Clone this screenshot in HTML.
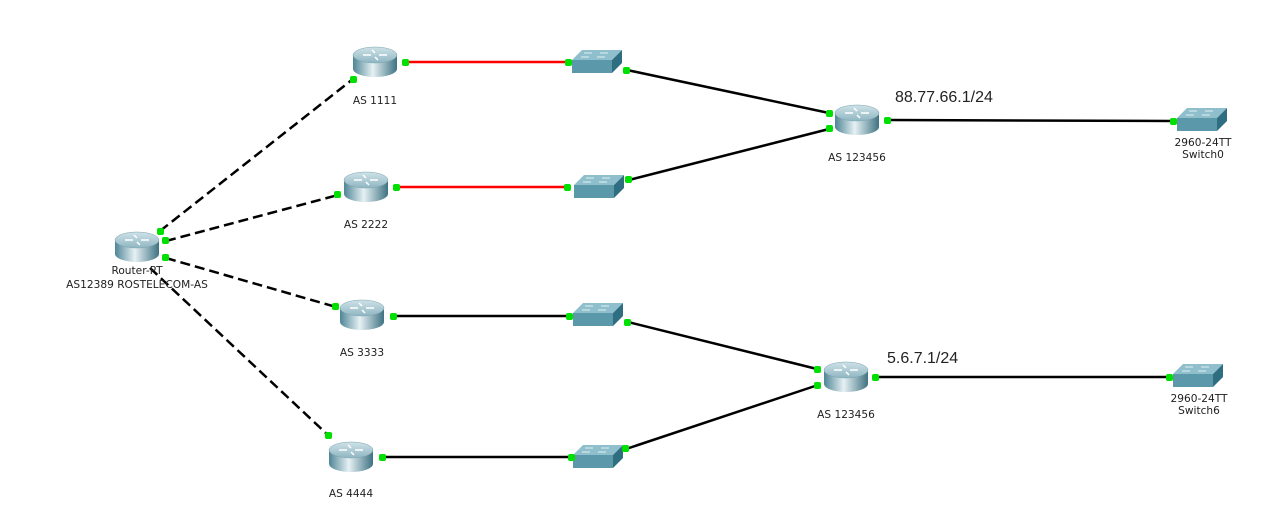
<!DOCTYPE html>
<html><head><meta charset="utf-8"><style>
body{margin:0;background:#fff;}
svg text{font-family:"DejaVu Sans","Liberation Sans",sans-serif;font-size:10.6px;fill:#222;}
</style></head><body>
<svg width="1281" height="511" viewBox="0 0 1281 511" xmlns="http://www.w3.org/2000/svg">
<defs>
<linearGradient id="rb" x1="0" x2="1" y1="0" y2="0">
<stop offset="0" stop-color="#4f8596"/><stop offset="0.45" stop-color="#e6f1f4"/><stop offset="1" stop-color="#3e7282"/>
</linearGradient>
<linearGradient id="rt" x1="0" x2="0" y1="0" y2="1">
<stop offset="0" stop-color="#cfe2e8"/><stop offset="1" stop-color="#8fb6c2"/>
</linearGradient>
<g id="router">
<ellipse cx="0" cy="8" rx="22" ry="8" fill="url(#rb)"/>
<rect x="-22" y="-6" width="44" height="14" fill="url(#rb)"/>
<ellipse cx="0" cy="-6" rx="22" ry="8" fill="url(#rt)" stroke="#7aa3b0" stroke-width="0.5"/>
<path d="M-12 -6 h8 M4 -6 h8 M-3 -11 l3 3 M3 -1 l-3 -3" stroke="#fff" stroke-width="1.5" fill="none"/>
</g>
<g id="switch">
<polygon points="0,10 10,0 50,0 40,10" fill="#8fbfcc"/>
<rect x="0" y="10" width="40" height="13" fill="#5a98aa"/>
<polygon points="40,10 50,0 50,13 40,23" fill="#2f6e80"/>
<path d="M12 3 h8 M28 3 h8 M9 7 h8 M25 7 h8" stroke="#e0f0f4" stroke-width="1"/>
</g>
</defs>
<g stroke="#000" stroke-width="2.5" fill="none" stroke-dasharray="10,5">
<line x1="160" y1="231" x2="353" y2="79"/>
<line x1="166" y1="241" x2="338" y2="195"/>
<line x1="166" y1="258" x2="336" y2="307"/>
<line x1="150" y1="268" x2="329" y2="436"/>
</g>
<g stroke-width="2.5">
<line x1="405" y1="62" x2="568" y2="62" stroke="#f00"/>
<line x1="396" y1="187" x2="567" y2="187" stroke="#f00"/>
<g stroke="#000">
<line x1="627" y1="70" x2="829" y2="113"/>
<line x1="629" y1="180" x2="829" y2="129"/>
<line x1="887" y1="120" x2="1173" y2="121"/>
<line x1="393" y1="316" x2="569" y2="316"/>
<line x1="628" y1="322" x2="817" y2="369"/>
<line x1="626" y1="449" x2="818" y2="385"/>
<line x1="382" y1="457" x2="571" y2="457"/>
<line x1="876" y1="377" x2="1169" y2="377"/>
</g>
</g>
<use href="#router" x="137" y="246"/>
<use href="#router" x="375" y="61"/>
<use href="#router" x="366" y="186"/>
<use href="#router" x="362" y="314"/>
<use href="#router" x="351" y="456"/>
<use href="#router" x="857" y="119"/>
<use href="#router" x="846" y="376"/>
<use href="#switch" x="572" y="50"/>
<use href="#switch" x="574" y="175"/>
<use href="#switch" x="573" y="303"/>
<use href="#switch" x="573" y="445"/>
<use href="#switch" x="1177" y="108"/>
<use href="#switch" x="1173" y="364"/>
<g fill="#00e000">
<rect x="157" y="228" width="7" height="7" rx="2"/><rect x="162" y="237" width="7" height="7" rx="2"/><rect x="162" y="254" width="7" height="7" rx="2"/>
<rect x="350" y="76" width="7" height="7" rx="2"/><rect x="402" y="59" width="7" height="7" rx="2"/>
<rect x="334" y="191" width="7" height="7" rx="2"/><rect x="393" y="184" width="7" height="7" rx="2"/>
<rect x="332" y="303" width="7" height="7" rx="2"/><rect x="390" y="313" width="7" height="7" rx="2"/>
<rect x="325" y="432" width="7" height="7" rx="2"/><rect x="379" y="454" width="7" height="7" rx="2"/>
<rect x="565" y="59" width="7" height="7" rx="2"/><rect x="623" y="67" width="7" height="7" rx="2"/>
<rect x="564" y="184" width="7" height="7" rx="2"/><rect x="625" y="176" width="7" height="7" rx="2"/>
<rect x="566" y="313" width="7" height="7" rx="2"/><rect x="624" y="319" width="7" height="7" rx="2"/>
<rect x="568" y="454" width="7" height="7" rx="2"/><rect x="622" y="445" width="7" height="7" rx="2"/>
<rect x="826" y="110" width="7" height="7" rx="2"/><rect x="826" y="125" width="7" height="7" rx="2"/><rect x="884" y="117" width="7" height="7" rx="2"/>
<rect x="814" y="366" width="7" height="7" rx="2"/><rect x="814" y="382" width="7" height="7" rx="2"/><rect x="872" y="374" width="7" height="7" rx="2"/>
<rect x="1170" y="118" width="7" height="7" rx="2"/><rect x="1166" y="374" width="7" height="7" rx="2"/>
</g>
<text x="137" y="274" text-anchor="middle">Router-PT</text>
<text x="137" y="288" text-anchor="middle">AS12389 ROSTELECOM-AS</text>
<text x="375" y="104" text-anchor="middle">AS 1111</text>
<text x="366" y="228" text-anchor="middle">AS 2222</text>
<text x="362" y="356" text-anchor="middle">AS 3333</text>
<text x="351" y="497" text-anchor="middle">AS 4444</text>
<text x="857" y="161" text-anchor="middle">AS 123456</text>
<text x="846" y="418" text-anchor="middle">AS 123456</text>
<text x="1203" y="146" text-anchor="middle">2960-24TT</text>
<text x="1203" y="158" text-anchor="middle">Switch0</text>
<text x="1199" y="402" text-anchor="middle">2960-24TT</text>
<text x="1199" y="414" text-anchor="middle">Switch6</text>
<text x="895" y="102" style="font-family:'Liberation Sans',sans-serif;font-size:16px">88.77.66.1/24</text>
<text x="887" y="363" style="font-family:'Liberation Sans',sans-serif;font-size:16px">5.6.7.1/24</text>
</svg>
</body></html>
